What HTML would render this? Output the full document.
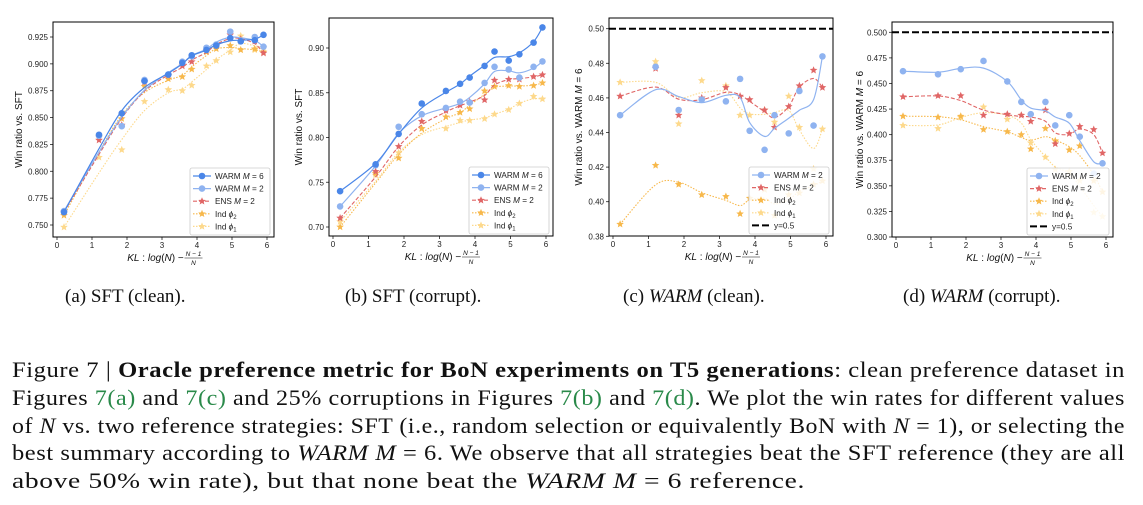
<!DOCTYPE html>
<html><head><meta charset="utf-8">
<style>
body{margin:0;background:#fff;width:1143px;height:505px;overflow:hidden;position:relative;font-family:"Liberation Sans",sans-serif;}
#charts{position:absolute;left:0;top:0;}
.sub{position:absolute;top:286px;font-family:"Liberation Serif",serif;font-size:19px;color:#111;white-space:nowrap;}
#caption{position:absolute;left:12px;top:356px;width:1113px;font-family:"Liberation Serif",serif;font-size:22px;line-height:27.8px;color:#111;}
.ln{height:27.8px;white-space:nowrap;}
.ln span.fit{display:inline-block;transform-origin:0 0;letter-spacing:0.5px;}
.g{color:#2a8a4a;}
</style></head>
<body>
<svg id="charts" width="1143" height="280" xmlns="http://www.w3.org/2000/svg"></svg>
<div class="sub" style="left:65px">(a) SFT (clean).</div>
<div class="sub" style="left:345px">(b) SFT (corrupt).</div>
<div class="sub" style="left:623px">(c) <i>WARM</i> (clean).</div>
<div class="sub" style="left:903px">(d) <i>WARM</i> (corrupt).</div>
<div id="caption">
<div class="ln"><span class="fit" data-w="1113">Figure 7 | <b>Oracle preference metric for BoN experiments on T5 generations</b>: clean preference dataset in</span></div>
<div class="ln"><span class="fit" data-w="1113">Figures <span class="g">7(a)</span> and <span class="g">7(c)</span> and 25% corruptions in Figures <span class="g">7(b)</span> and <span class="g">7(d)</span>. We plot the win rates for different values</span></div>
<div class="ln"><span class="fit" data-w="1113">of <i>N</i> vs. two reference strategies: SFT (i.e., random selection or equivalently BoN with <i>N</i> = 1), or selecting the</span></div>
<div class="ln"><span class="fit" data-w="1113">best summary according to <i>WARM M</i> = 6. We observe that all strategies beat the SFT reference (they are all</span></div>
<div class="ln"><span class="fit" data-w="793">above 50% win rate), but that none beat the <i>WARM M</i> = 6 reference.</span></div>
</div>
<script>
const xs=[0.2,1.2,1.85,2.5,3.18,3.58,3.85,4.27,4.55,4.95,5.25,5.65,5.9];
const xTicks=[0,1,2,3,4,5,6];
// panel a
const aWarm6=[0.762,0.834,0.854,0.884,0.890,0.901,0.908,0.913,0.917,0.924,0.921,0.922,0.927];
const aWarm2=[0.763,0.833,0.842,0.885,0.890,0.902,0.907,0.915,0.918,0.930,0.921,0.925,0.916];
const aEns=[0.762,0.829,0.843,0.883,0.889,0.898,0.902,0.912,0.917,0.927,0.923,0.921,0.910];
const aInd2=[0.759,0.832,0.849,0.879,0.886,0.888,0.895,0.911,0.914,0.917,0.913,0.914,0.911];
const aInd1=[0.748,0.813,0.820,0.865,0.876,0.875,0.880,0.898,0.903,0.911,0.926,0.913,0.915];
const aTicks=[0.750,0.775,0.800,0.825,0.850,0.875,0.900,0.925];
// panel b
const bWarm6=[0.740,0.770,0.804,0.838,0.852,0.860,0.867,0.880,0.896,0.886,0.893,0.906,0.923];
const bWarm2=[0.723,0.769,0.812,0.826,0.833,0.840,0.839,0.861,0.879,0.876,0.867,0.879,0.885];
const bEns=[0.710,0.762,0.790,0.818,0.830,0.836,0.840,0.842,0.864,0.865,0.865,0.868,0.870];
const bInd2=[0.700,0.760,0.777,0.810,0.823,0.828,0.832,0.852,0.857,0.858,0.857,0.858,0.861];
const bInd1=[0.706,0.758,0.783,0.810,0.810,0.819,0.819,0.821,0.826,0.831,0.838,0.846,0.843];
const bTicks=[0.70,0.75,0.80,0.85,0.90];
// panel c
const cWarm2=[0.450,0.478,0.453,0.459,0.458,0.471,0.441,0.430,0.450,0.4395,0.464,0.444,0.484];
const cEns=[0.461,0.477,0.450,0.460,0.466,0.461,0.459,0.453,0.443,0.455,0.467,0.476,0.466];
const cInd2=[0.387,0.421,0.410,0.404,0.403,0.393,0.402,0.407,0.392,0.404,0.405,0.410,0.412];
const cInd1=[0.469,0.481,0.445,0.470,0.467,0.450,0.450,0.453,0.446,0.461,0.443,0.419,0.442];
const cTicks=[0.38,0.40,0.42,0.44,0.46,0.48,0.50];
// panel d
const dWarm2=[0.462,0.459,0.464,0.472,0.452,0.432,0.420,0.432,0.409,0.419,0.398,0.362,0.372];
const dEns=[0.437,0.438,0.438,0.419,0.420,0.419,0.413,0.424,0.391,0.401,0.408,0.405,0.382];
const dInd2=[0.418,0.417,0.418,0.405,0.403,0.400,0.386,0.406,0.394,0.385,0.389,0.355,0.344];
const dInd1=[0.409,0.406,0.417,0.427,0.415,0.419,0.392,0.378,0.366,0.364,0.355,0.324,0.320];
const dTicks=[0.300,0.325,0.350,0.375,0.400,0.425,0.450,0.475,0.500];
const refLine=0.5;

const NS="http://www.w3.org/2000/svg";
const svg=document.getElementById('charts');
function mk(tag,attrs,parent){const e=document.createElementNS(NS,tag);for(const k in attrs)e.setAttribute(k,attrs[k]);(parent||svg).appendChild(e);return e;}
const STY={
 warm6:{c:'#4a86e8',dash:'',m:'o',lw:1.2},
 warm2:{c:'#8fb3f0',dash:'',m:'o',lw:1.2},
 ens:{c:'#e06666',dash:'4,2',m:'s',lw:1.1},
 ind2:{c:'#f7b84b',dash:'1.5,1.5',m:'s',lw:1.1},
 ind1:{c:'#fdd98c',dash:'1.5,1.5',m:'s',lw:1.1}
};
function star(cx,cy,r){let p='';for(let i=0;i<10;i++){const rr=i%2?r*0.45:r;const a=-Math.PI/2+i*Math.PI/5;p+=(i?'L':'M')+(cx+rr*Math.cos(a)).toFixed(2)+','+(cy+rr*Math.sin(a)).toFixed(2);}return p+'Z';}
function smooth(v){return v.map((y,i)=>i==0||i==v.length-1?y:(v[i-1]+2*y+v[i+1])/4);}
function crPath(pts){let d='M'+pts[0][0]+','+pts[0][1];for(let i=0;i<pts.length-1;i++){const p0=pts[Math.max(0,i-1)],p1=pts[i],p2=pts[i+1],p3=pts[Math.min(pts.length-1,i+2)];d+=' C'+(p1[0]+(p2[0]-p0[0])/6).toFixed(2)+','+(p1[1]+(p2[1]-p0[1])/6).toFixed(2)+' '+(p2[0]-(p3[0]-p1[0])/6).toFixed(2)+','+(p2[1]-(p3[1]-p1[1])/6).toFixed(2)+' '+p2[0].toFixed(2)+','+p2[1].toFixed(2);}return d;}
function marker(g,m,x,y,c){if(m=='o'){return mk('circle',{cx:x,cy:y,r:3.3,fill:c},g);}return mk('path',{d:star(x,y,4),fill:c},g);}

function panel(id,P){
 const g=mk('g',{});
 
 
 const X=v=>P.x0+(P.x6-P.x0)*v/6;
 const Y=v=>P.yA+(P.yB-P.yA)*(v-P.vA)/(P.vB-P.vA);
 const clip=mk('clipPath',{id:'clip'+id},g);mk('rect',{x:P.l,y:P.t,width:P.r-P.l,height:P.b-P.t},clip);
 xTicks.forEach(t=>{mk('line',{x1:X(t),x2:X(t),y1:P.b,y2:P.b+3,stroke:'#222','stroke-width':0.8},g);
  const tx=mk('text',{x:X(t),y:P.b+11,'font-size':8,'text-anchor':'middle',fill:'#222'},g);tx.textContent=t;});
 P.ticks.forEach(t=>{mk('line',{x1:P.l-3,x2:P.l,y1:Y(t),y2:Y(t),stroke:'#222','stroke-width':0.8},g);
  const tx=mk('text',{x:P.l-5,y:Y(t)+3,'font-size':8,'text-anchor':'end',fill:'#222'},g);tx.textContent=t.toFixed(P.dec);});
 const pg=mk('g',{'clip-path':'url(#clip'+id+')'},g);
 if(P.ref){const rl=mk('line',{x1:P.l,x2:P.r,y1:Y(refLine),y2:Y(refLine),stroke:'#000','stroke-width':2,'stroke-dasharray':'7,3'},pg);
  
  }
 P.series.slice().reverse().forEach(s=>{
  const st=STY[s.k];const sg=mk('g',{},pg);
  
  
  const sm=smooth(s.v);
  const pts=xs.map((x,i)=>[X(x),Y(sm[i])]);
  mk('path',{d:crPath(pts),fill:'none',stroke:st.c,'stroke-width':st.lw,'stroke-dasharray':st.dash},sg);
  s.v.forEach((v,i)=>{const m=marker(sg,st.m,X(xs[i]),Y(v),st.c);
   
   });
 });
 mk('rect',{x:P.l,y:P.t,width:P.r-P.l,height:P.b-P.t,fill:'none',stroke:'#000','stroke-width':1},g);
 const lg=mk('g',{},g);
 
 
 const items=P.series.map(s=>s).concat(P.ref?[{k:'ref'}]:[]);
 const lh=12.6, lw=P.lw;
 const lx=P.r-lw-4, ly=P.b-items.length*lh-6;
 mk('rect',{x:lx,y:ly,width:lw,height:items.length*lh+4,rx:2,fill:'rgba(255,255,255,0.85)',stroke:'#ccc','stroke-width':0.8},lg);
 items.forEach((s,i)=>{const cy=ly+8+i*lh;const ent=mk('g',{},lg);
  
  
  if(s.k=='ref'){mk('line',{x1:lx+3,x2:lx+21,y1:cy,y2:cy,stroke:'#000','stroke-width':2,'stroke-dasharray':'7,3'},ent);}
  else{const st=STY[s.k];mk('line',{x1:lx+3,x2:lx+21,y1:cy,y2:cy,stroke:st.c,'stroke-width':1.2,'stroke-dasharray':st.dash},ent);marker(ent,st.m,lx+12,cy,st.c);}
  const t=mk('text',{x:lx+25,y:cy+3,'font-size':8.2,fill:'#222'},ent);
  if(s.k=='ref')t.textContent='y=0.5';
  else if(s.k=='warm6')t.innerHTML='WARM <tspan font-style="italic">M</tspan> = 6';
  else if(s.k=='warm2')t.innerHTML='WARM <tspan font-style="italic">M</tspan> = 2';
  else if(s.k=='ens')t.innerHTML='ENS <tspan font-style="italic">M</tspan> = 2';
  else if(s.k=='ind2')t.innerHTML='Ind <tspan font-style="italic">ϕ</tspan><tspan font-size="6" dy="2">2</tspan>';
  else t.innerHTML='Ind <tspan font-style="italic">ϕ</tspan><tspan font-size="6" dy="2">1</tspan>';
 });
 const cx=(P.l+P.r)/2;
 const xl=mk('text',{x:cx-8,y:P.b+24,'font-size':10,'text-anchor':'middle',fill:'#111'},g);
 xl.innerHTML='<tspan font-style="italic">KL</tspan> : <tspan font-style="italic">log</tspan>(<tspan font-style="italic">N</tspan>) −';
 
 
 const fx=cx+30;
 const fn=mk('text',{x:fx,y:P.b+19,'font-size':6.5,'text-anchor':'middle','font-style':'italic',fill:'#111'},g);fn.textContent='N − 1';
 mk('line',{x1:fx-9,x2:fx+9,y1:P.b+21,y2:P.b+21,stroke:'#111','stroke-width':0.6},g);
 const fd=mk('text',{x:fx,y:P.b+28,'font-size':6.5,'text-anchor':'middle','font-style':'italic',fill:'#111'},g);fd.textContent='N';
 const yl=mk('text',{x:0,y:0,'font-size':10,'text-anchor':'middle',fill:'#111',transform:'translate('+P.yl+','+(P.t+P.b)/2+') rotate(-90)'},g);
 yl.innerHTML=P.ylab;
 
 
}
panel('a',{l:53,t:22,r:274,b:237,x0:57,x6:267,vA:0.925,yA:37,vB:0.750,yB:225,ticks:aTicks,dec:3,lw:80,yl:22,ylab:'Win ratio vs. SFT',
 series:[{k:'warm6',v:aWarm6},{k:'warm2',v:aWarm2},{k:'ens',v:aEns},{k:'ind2',v:aInd2},{k:'ind1',v:aInd1}]});
panel('b',{l:329,t:18,r:553,b:236,x0:333,x6:546,vA:0.90,yA:48,vB:0.70,yB:227,ticks:bTicks,dec:2,lw:80,yl:302,ylab:'Win ratio vs. SFT',
 series:[{k:'warm6',v:bWarm6},{k:'warm2',v:bWarm2},{k:'ens',v:bEns},{k:'ind2',v:bInd2},{k:'ind1',v:bInd1}]});
panel('c',{l:609,t:18,r:833,b:236,x0:613,x6:826,vA:0.50,yA:28.7,vB:0.38,yB:236.3,ticks:cTicks,dec:2,lw:80,yl:582,ref:true,ylab:'Win ratio vs. WARM <tspan font-style="italic">M</tspan> = 6',
 series:[{k:'warm2',v:cWarm2},{k:'ens',v:cEns},{k:'ind2',v:cInd2},{k:'ind1',v:cInd1}]});
panel('d',{l:892,t:22,r:1113,b:237,x0:896,x6:1106,vA:0.500,yA:32.3,vB:0.300,yB:237,ticks:dTicks,dec:3,lw:82,yl:863,ref:true,ylab:'Win ratio vs. WARM <tspan font-style="italic">M</tspan> = 6',
 series:[{k:'warm2',v:dWarm2},{k:'ens',v:dEns},{k:'ind2',v:dInd2},{k:'ind1',v:dInd1}]});

document.querySelectorAll('.fit').forEach(s=>{const w=s.getBoundingClientRect().width;const t=+s.getAttribute('data-w');s.style.transform='scaleX('+(t/w)+')';});
</script>
</body></html>
